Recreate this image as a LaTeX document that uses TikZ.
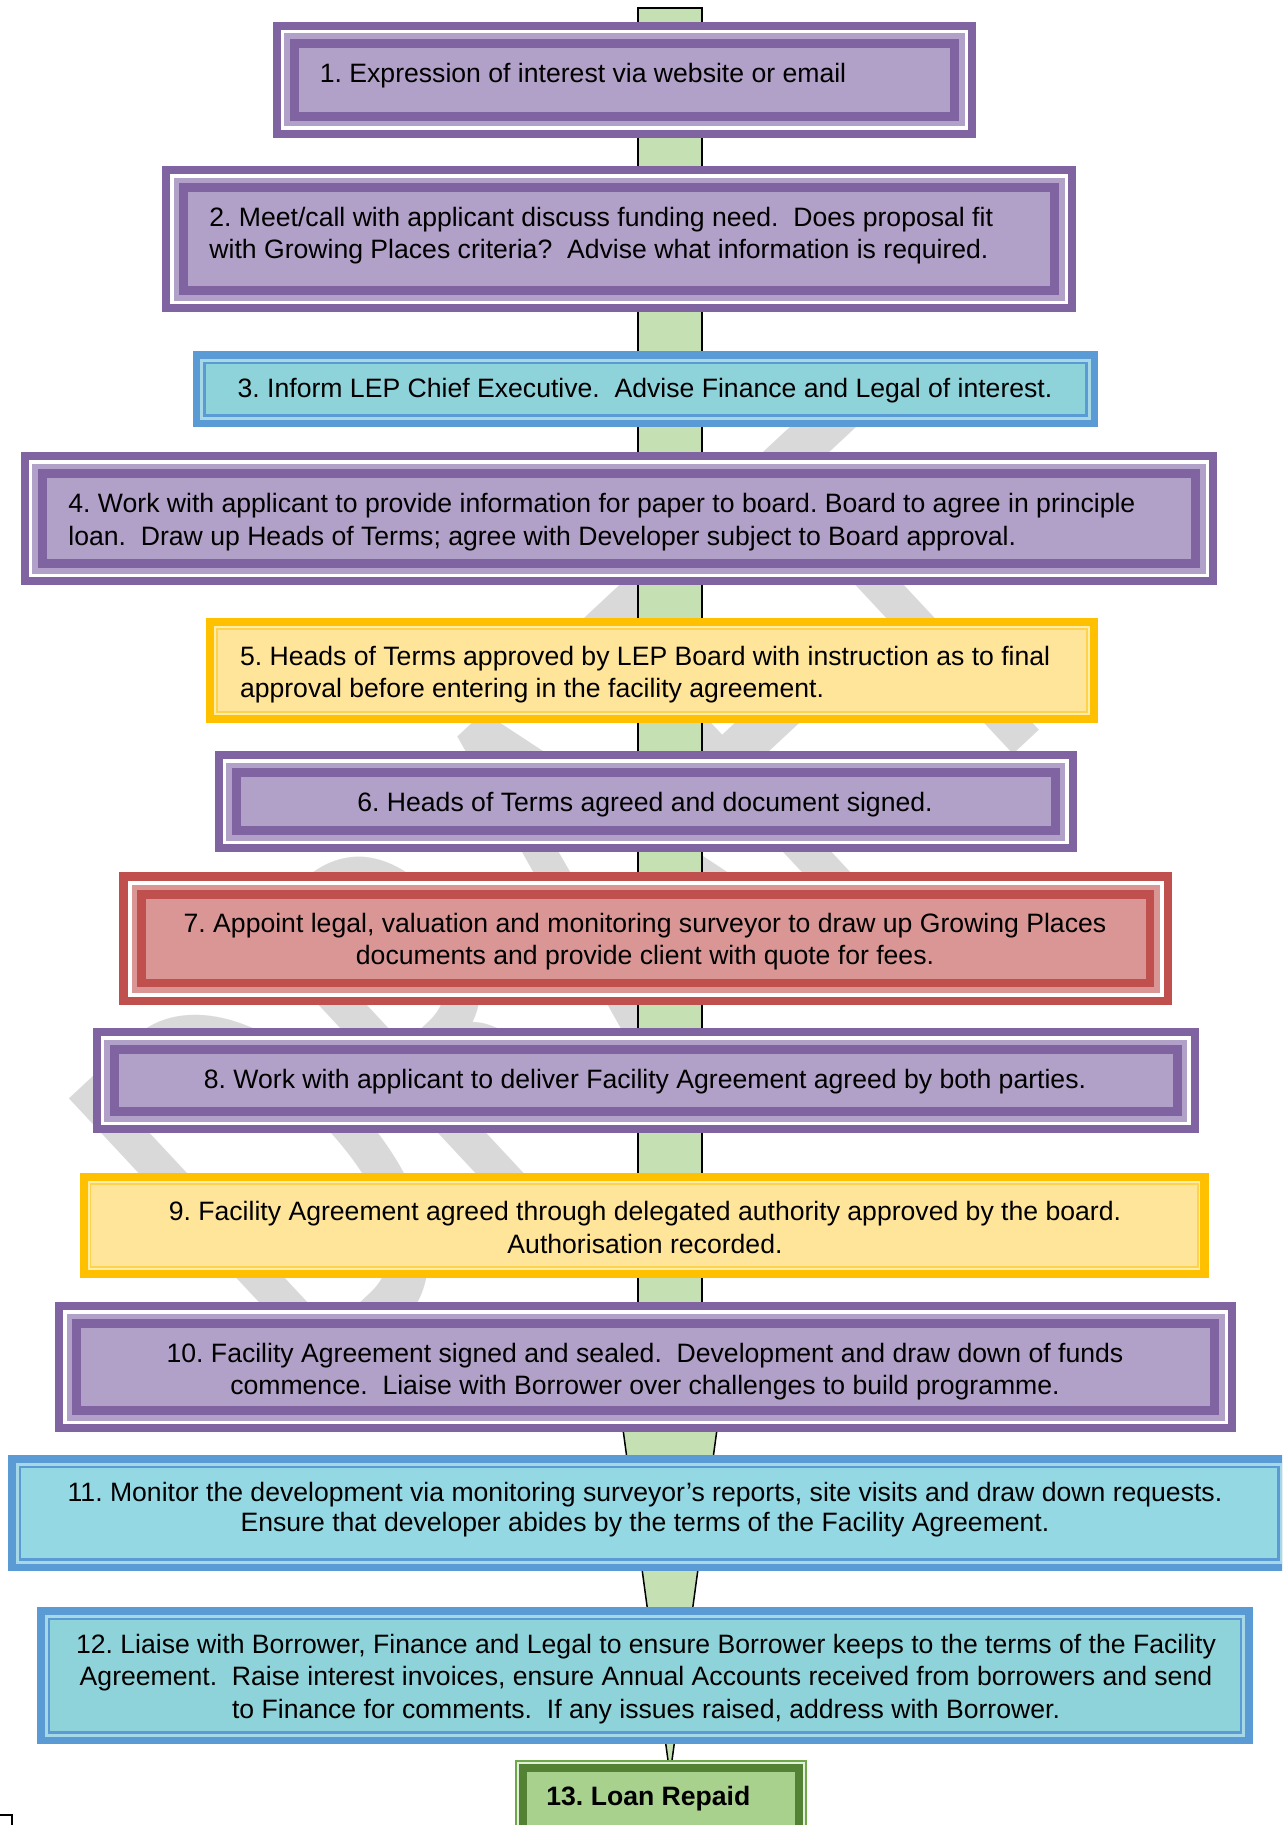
\documentclass[tikz,border=0pt]{standalone}
\usepackage{fontspec}
\setmainfont{Liberation Sans}
\newfontfamily\wmfont{Carlito}
\usepackage{graphicx}
\definecolor{pdark}{HTML}{8064A2}
\definecolor{plight}{HTML}{B1A0C7}
\definecolor{rdark}{HTML}{C0504D}
\definecolor{rlight}{HTML}{D99694}
\definecolor{bdark}{HTML}{5B9BD5}
\definecolor{bband}{HTML}{A6D8E6}
\definecolor{bfillA}{HTML}{8ED2DA}
\definecolor{bfillB}{HTML}{94D8E4}
\definecolor{bfillC}{HTML}{8FD3DA}
\definecolor{ydark}{HTML}{FFC000}
\definecolor{yband}{HTML}{FFEDAA}
\definecolor{yline}{HTML}{FFD24D}
\definecolor{yfill}{HTML}{FFE599}
\definecolor{gline}{HTML}{6FA84A}
\definecolor{gpale}{HTML}{E2EFD9}
\definecolor{gdark}{HTML}{548235}
\definecolor{gfill}{HTML}{A9D18E}
\definecolor{trunkc}{HTML}{C5E0B3}
\definecolor{wmc}{HTML}{D9D9D9}
\newcommand\bodyfont{\fontsize{13.3}{16.3}\selectfont}
\newcommand\band[6]{\fill[#6] ({#1+#5},{#2+#5}) rectangle ({#3-#5},{#4-#5});}
\newcommand\purplebox[4]{\band{#1}{#2}{#3}{#4}{0}{pdark}\band{#1}{#2}{#3}{#4}{8}{white}\band{#1}{#2}{#3}{#4}{11.5}{plight}\band{#1}{#2}{#3}{#4}{17}{pdark}\band{#1}{#2}{#3}{#4}{26}{plight}}
\newcommand\redbox[4]{\band{#1}{#2}{#3}{#4}{0}{rdark}\band{#1}{#2}{#3}{#4}{8.5}{white}\band{#1}{#2}{#3}{#4}{12.5}{rlight}\band{#1}{#2}{#3}{#4}{18}{rdark}\band{#1}{#2}{#3}{#4}{26.5}{rlight}}
\newcommand\bluebox[5]{\band{#1}{#2}{#3}{#4}{0}{bdark}\band{#1}{#2}{#3}{#4}{7.5}{bband}\band{#1}{#2}{#3}{#4}{10.5}{bdark}\band{#1}{#2}{#3}{#4}{13}{#5}}
\newcommand\yellowbox[4]{\band{#1}{#2}{#3}{#4}{0}{ydark}\band{#1}{#2}{#3}{#4}{8.3}{yband}\band{#1}{#2}{#3}{#4}{10}{yline}\band{#1}{#2}{#3}{#4}{11.7}{yfill}}
\newcommand\greenbox[4]{\band{#1}{#2}{#3}{#4}{0}{gline}\band{#1}{#2}{#3}{#4}{1.8}{gpale}\band{#1}{#2}{#3}{#4}{4}{gdark}\band{#1}{#2}{#3}{#4}{12}{gfill}}
\newcommand\ctrlines[1]{\begin{tabular}[t]{@{}c@{}}#1\end{tabular}}
\newcommand\leftlines[1]{\begin{tabular}[t]{@{}l@{}}#1\end{tabular}}
\frenchspacing
\tikzset{
  lbl/.style={inner sep=0pt, font=\bodyfont, anchor=base},
  lbll/.style={lbl, anchor=base west},
  trunkshape/.style={fill=trunkc, draw=black, line width=0.75pt}
}
\begin{document}
\begin{tikzpicture}[x=0.5pt,y=-0.5pt]
\useasboundingbox (0,0) rectangle (1282,1825);
\clip (0,0) rectangle (1282,1825);
\fill[white] (0,0) rectangle (1282,1825);
% watermark
\node[rotate=43, anchor=base west, inner sep=0pt, text=wmc, font=\wmfont] (wm) at (316,1404)
  {\scalebox{0.652}[1]{\fontsize{305}{305}\selectfont DRAFT}};
% trunk
\draw[trunkshape] (609.5,1330) -- (730.5,1330) -- (670,1775) -- cycle;
\draw[trunkshape] (638,8) rectangle (702,1360);
% boxes
\purplebox{272.5}{22}{976}{138}
\purplebox{162}{166}{1076}{312}
\bluebox{192.5}{351}{1098}{427}{bfillA}
\purplebox{20.5}{452}{1217}{585}
\yellowbox{206}{618}{1098}{723}
\purplebox{214.5}{751}{1076.5}{852}
\redbox{119}{872}{1172}{1005}
\purplebox{92.5}{1028}{1198.5}{1133}
\yellowbox{79.5}{1173}{1208.5}{1278}
\purplebox{55}{1302}{1236}{1432}
\bluebox{8}{1455}{1290}{1571}{bfillB}
\bluebox{37}{1607}{1252.5}{1744}{bfillC}
\greenbox{515}{1760}{807}{1880}
% texts
\node[lbll] (b1) at (319.5,82.7) {1. Expression of interest via website or email};
\node[lbll] (b2) at (209,226) {\leftlines{2. Meet/call with applicant discuss funding need.~ Does proposal fit\\with Growing Places criteria?~ Advise what information is required.}};
\node[lbl] (b3) at (645,397.3) {3. Inform LEP Chief Executive.~ Advise Finance and Legal of interest.};
\node[lbll] (b4) at (68,512.7) {\leftlines{4. Work with applicant to provide information for paper to board. Board to agree in principle\\loan.~ Draw up Heads of Terms; agree with Developer subject to Board approval.}};
\node[lbll] (b5) at (239.6,665) {\leftlines{5. Heads of Terms approved by LEP Board with instruction as to final\\approval before entering in the facility agreement.}};
\node[lbl] (b6) at (645,811.7) {6. Heads of Terms agreed and document signed.};
\node[lbl] (b7) at (645,932.3) {\ctrlines{7. Appoint legal, valuation and monitoring surveyor to draw up Growing Places\\documents and provide client with quote for fees.}};
\node[lbl] (b8) at (645,1088.3) {8. Work with applicant to deliver Facility Agreement agreed by both parties.};
\node[lbl] (b9) at (645,1220.7) {\ctrlines{9. Facility Agreement agreed through delegated authority approved by the board.\\Authorisation recorded.}};
\node[lbl] (b10) at (645,1362.3) {\ctrlines{10. Facility Agreement signed and sealed.~ Development and draw down of funds\\commence.~ Liaise with Borrower over challenges to build programme.}};
\node[lbl, font=\fontsize{13.3}{15}\selectfont] (b11) at (645,1501.7) {\ctrlines{11. Monitor the development via monitoring surveyor's reports, site visits and draw down requests.\\Ensure that developer abides by the terms of the Facility Agreement.}};
\node[lbl] (b12) at (646,1653.3) {\ctrlines{12. Liaise with Borrower, Finance and Legal to ensure Borrower keeps to the terms of the Facility\\Agreement.~ Raise interest invoices, ensure Annual Accounts received from borrowers and send\\to Finance for comments.~ If any issues raised, address with Borrower.}};
\node[lbll, font=\bodyfont\bfseries] (b13) at (546,1805) {13. Loan Repaid};
% corner mark
\draw[line width=0.6pt] (0,1815) -- (12,1815) -- (12,1826);
\end{tikzpicture}
\end{document}
